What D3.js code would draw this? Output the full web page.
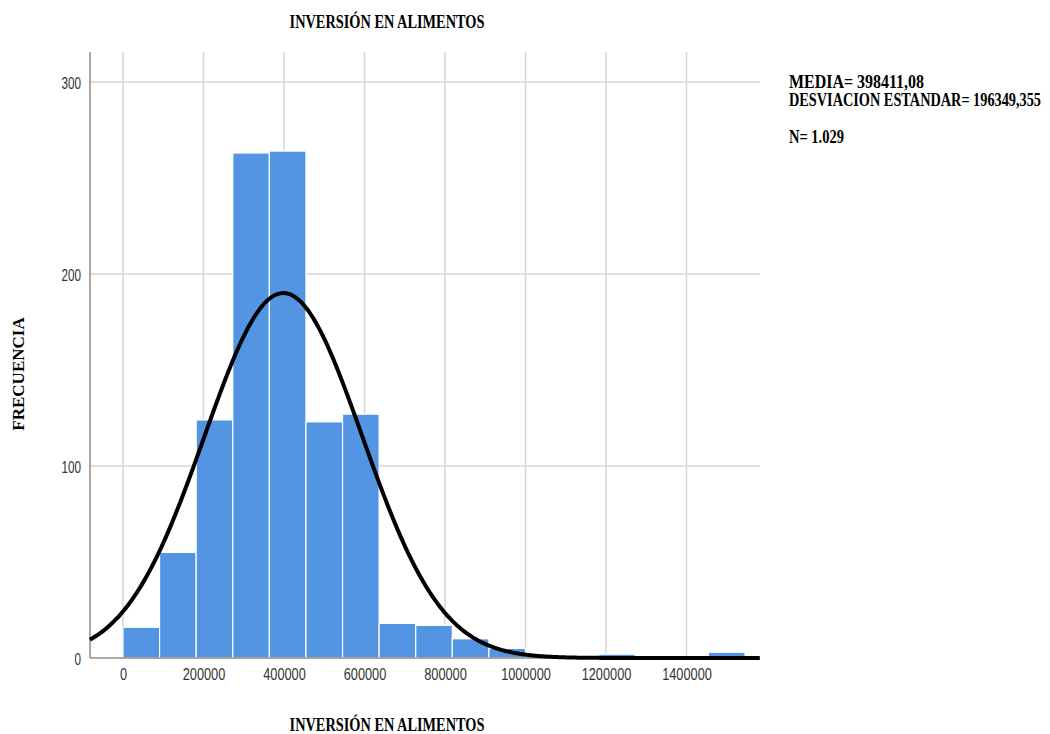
<!DOCTYPE html>
<html><head><meta charset="utf-8">
<script src="https://cdn.jsdelivr.net/npm/d3@7"></script>
<style>body{margin:0;background:#fff}</style>
</head><body>
<svg id="c" width="1050" height="734"></svg>
<script>
// ---- data ----
const binStarts = [0, 90909, 181818, 272727, 363636, 454545, 545455, 636364, 727273, 818182, 909091, 1000000, 1090909, 1181818, 1272727, 1363636, 1454545];
const binWidth = 90909;
const counts = [16, 55, 124, 263, 264, 123, 127, 18, 17, 10, 5, 1, 1, 2, 0, 0, 3];
const xTicks = [0, 200000, 400000, 600000, 800000, 1000000, 1200000, 1400000];
const yTicks = [0, 100, 200, 300];
const mean = 398411.08, sd = 196349.355, nObs = 1029;
const statLines = ["MEDIA= 398411,08", "DESVIACION ESTANDAR= 196349,355", "N= 1.029"];
const titleText = "INVERSIÓN EN ALIMENTOS";
const yTitle = "FRECUENCIA";

// ---- layout ----
const L = 90, R = 760, T = 52, B = 658;
const svg = d3.select("#c");
const x = d3.scaleLinear().domain([-82000, 1582600]).range([L, R]);
const y = d3.scaleLinear().domain([0, 315.6]).range([B, T]);

// helper: horizontally condense a text placed at (px,py) to a target width
function squeeze(sel, px, py, w, anchor, rot) {
  const n = sel.node().getComputedTextLength();
  const sx = Math.min(1, w / n);
  sel.attr("x", null).attr("y", null).attr("text-anchor", anchor)
    .attr("transform", `translate(${px},${py})${rot ? " rotate(" + rot + ")" : ""} scale(${sx},1)`);
}

// gridlines
const g = svg.append("g");
g.selectAll("line.vg").data(xTicks).join("line")
  .attr("x1", d => x(d)).attr("x2", d => x(d)).attr("y1", T).attr("y2", B)
  .attr("stroke", "#d6d6d6").attr("stroke-width", 1.5);
g.selectAll("line.hg").data(yTicks.filter(d => d > 0)).join("line")
  .attr("x1", L).attr("x2", R).attr("y1", d => y(d)).attr("y2", d => y(d))
  .attr("stroke", "#d6d6d6").attr("stroke-width", 1.5);

// bars
const bars = binStarts.map((s, i) => ({s, c: counts[i]})).filter(d => d.c > 0);
svg.append("g").selectAll("rect").data(bars).join("rect")
  .attr("x", d => x(d.s)).attr("width", d => x(d.s + binWidth) - x(d.s))
  .attr("y", d => y(d.c)).attr("height", d => B - y(d.c))
  .attr("fill", "#5394e3").attr("stroke", "#ffffff").attr("stroke-width", 1.2);

// axes lines
svg.append("line").attr("x1", L).attr("x2", L).attr("y1", T).attr("y2", B)
  .attr("stroke", "#8c8c8c").attr("stroke-width", 1.5);
svg.append("line").attr("x1", L).attr("x2", R).attr("y1", B).attr("y2", B)
  .attr("stroke", "#8c8c8c").attr("stroke-width", 1.5);

// normal curve (fitted from mean, sd, N)
const xs = d3.range(x.domain()[0], x.domain()[1] + 1, 4000);
const dens = v => nObs * binWidth / (sd * Math.sqrt(2 * Math.PI)) * Math.exp(-0.5 * ((v - mean) / sd) ** 2);
svg.append("path").datum(xs)
  .attr("d", d3.line().x(v => x(v)).y(v => y(dens(v))).curve(d3.curveBasis))
  .attr("fill", "none").attr("stroke", "#000").attr("stroke-width", 4);

// axes tick labels
const xAxis = d3.axisBottom(x).tickValues(xTicks).tickSize(0).tickPadding(12).tickFormat(d3.format("d"));
const xa = svg.append("g").attr("transform", `translate(0,${B})`).call(xAxis);
xa.select(".domain").remove();
xa.selectAll("text").attr("font-family", "Liberation Sans, Arial, sans-serif").attr("font-size", 16)
  .attr("fill", "#333").attr("dy", "0.6em")
  .attr("textLength", function(){return this.textContent.length * 7.1;}).attr("lengthAdjust", "spacingAndGlyphs");

const yAxis = d3.axisLeft(y).tickValues(yTicks).tickSize(0).tickPadding(9);
const ya = svg.append("g").attr("transform", `translate(${L},0)`).call(yAxis);
ya.select(".domain").remove();
ya.selectAll("text").attr("font-family", "Liberation Sans, Arial, sans-serif").attr("font-size", 16)
  .attr("fill", "#333").attr("dy", "0.4em")
  .attr("textLength", function(){return this.textContent.length * 6.5;}).attr("lengthAdjust", "spacingAndGlyphs");

// titles
const serif = "Liberation Serif, Times New Roman, serif";
const t1 = svg.append("text").attr("font-family", serif).attr("font-weight", "bold").attr("font-size", 18).text(titleText);
squeeze(t1, 387, 28, 195, "middle");
const t2 = svg.append("text").attr("font-family", serif).attr("font-weight", "bold").attr("font-size", 18).text(titleText);
squeeze(t2, 387, 731, 195, "middle");
const t3 = svg.append("text").attr("font-family", serif).attr("font-weight", "bold").attr("font-size", 17).text(yTitle);
squeeze(t3, 24, 374, 116, "middle", -90);

// stats
const statW = [135, 252, 55];
const statY = [88, 106, 143];
statLines.forEach((s, i) => {
  const t = svg.append("text").attr("font-family", serif).attr("font-weight", "bold").attr("font-size", 18).text(s);
  squeeze(t, 789, statY[i], statW[i], "start");
});
</script>
</body></html>
